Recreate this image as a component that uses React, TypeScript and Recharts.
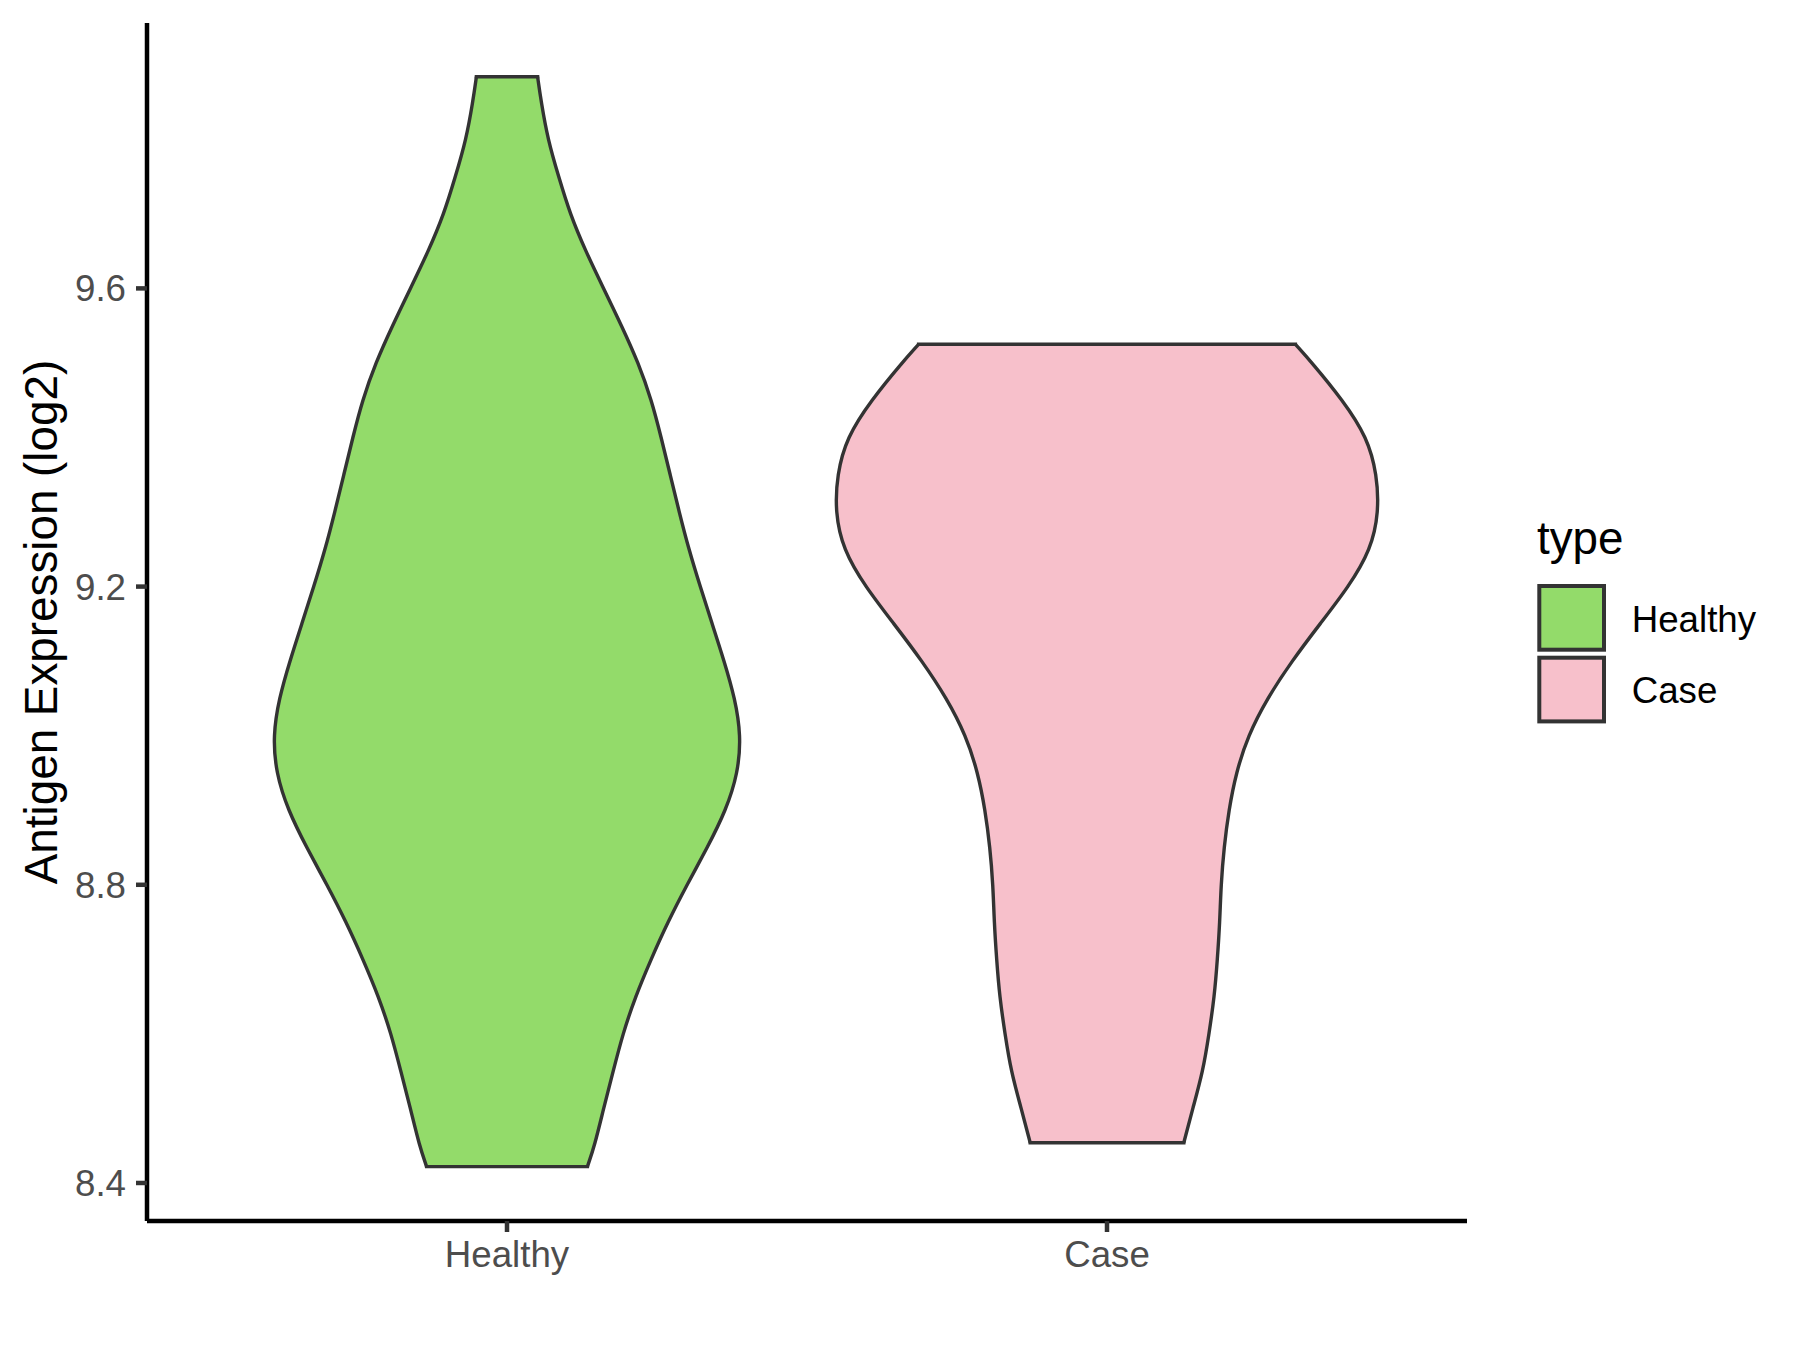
import React from 'react';
import { ComposedChart, Area, XAxis, YAxis, ReferenceLine, Legend, Label } from 'recharts';

const categories = ['Healthy', 'Case'];
const yTicks = [8.4, 8.8, 9.2, 9.6];
const fills = ['#93DB6A', '#F7C0CB'];

// Healthy violin outline: expression values (top → bottom) and half-widths (in category units)
const healthyY = [9.884, 9.85, 9.8, 9.75, 9.7, 9.65, 9.6, 9.55, 9.5, 9.45, 9.4, 9.35, 9.3, 9.25, 9.2, 9.15, 9.1, 9.05, 9.0, 8.95, 8.9, 8.85, 8.8, 8.75, 8.7, 8.65, 8.6, 8.55, 8.5, 8.45, 8.422];
const healthyHalfWidth = [0.051, 0.057, 0.068, 0.086, 0.105, 0.131, 0.161, 0.191, 0.219, 0.241, 0.257, 0.272, 0.287, 0.303, 0.322, 0.342, 0.362, 0.380, 0.390, 0.385, 0.365, 0.334, 0.300, 0.268, 0.240, 0.214, 0.193, 0.177, 0.161, 0.146, 0.134];

// Case violin outline
const caseY = [9.525, 9.5, 9.45, 9.4, 9.35, 9.3, 9.25, 9.2, 9.15, 9.1, 9.05, 9.0, 8.95, 8.9, 8.85, 8.8, 8.75, 8.7, 8.65, 8.6, 8.55, 8.5, 8.454];
const caseHalfWidth = [0.314, 0.342, 0.393, 0.434, 0.450, 0.453, 0.440, 0.403, 0.355, 0.308, 0.267, 0.235, 0.215, 0.203, 0.195, 0.190, 0.188, 0.184, 0.179, 0.170, 0.160, 0.143, 0.128];

const healthyData = healthyY.map((y, i) => ({ y, w: healthyHalfWidth[i] }));
const caseData = caseY.map((y, i) => ({ y, w: caseHalfWidth[i] }));

const violins = [
  { name: categories[0], center: 0, data: healthyData, fill: fills[0] },
  { name: categories[1], center: 1, data: caseData, fill: fills[1] },
];

const FONT = '"Liberation Sans", Arial, sans-serif';
const STROKE = '#333333';
const SW = 3.4;

const LegendContent = () => (
  <svg width={300} height={260} style={{ display: 'block' }}>
    <text x={37} y={74} fontSize={45.8} fontFamily={FONT} fill="#000000">type</text>
    {violins.map((v, i) => (
      <g key={v.name}>
        <rect x={39.3} y={106 + i * 71.7} width={64.7} height={63.7} fill={v.fill} stroke={STROKE} strokeWidth={4} />
        <text x={131.7} y={151.7 + i * 71} fontSize={36.7} fontFamily={FONT} fill="#000000">{v.name}</text>
      </g>
    ))}
  </svg>
);

export default function App() {
  return (
    <div style={{ position: 'absolute', left: 0, top: 0, width: 1800, height: 1350, background: '#FFFFFF' }}>
      <ComposedChart
        width={1800}
        height={1350}
        layout="vertical"
        margin={{ top: 23, right: 333, bottom: 0, left: 0 }}
      >
        <XAxis
          type="number"
          domain={[-0.6, 1.6]}
          ticks={[0, 1]}
          allowDataOverflow
          tickFormatter={(v: number) => categories[v]}
          height={129}
          axisLine={{ stroke: '#000000', strokeWidth: 4.5 }}
          tickLine={{ stroke: STROKE, strokeWidth: 4.5 }}
          tickSize={11}
          tickMargin={9}
          tick={{ fill: '#4D4D4D', fontSize: 36.7, fontFamily: FONT }}
          interval={0}
        />
        <YAxis
          type="number"
          dataKey="y"
          domain={[8.349, 9.956]}
          ticks={yTicks}
          reversed
          allowDataOverflow
          tickFormatter={(v: number) => v.toFixed(1)}
          width={147}
          axisLine={{ stroke: '#000000', strokeWidth: 4.5 }}
          tickLine={{ stroke: STROKE, strokeWidth: 4.5 }}
          tickSize={11}
          tickMargin={10}
          tick={{ fill: '#4D4D4D', fontSize: 36.7, fontFamily: FONT }}
          interval={0}
        >
          <Label
            content={() => (
              <text
                x={57}
                y={622}
                transform="rotate(-90 57 622)"
                textAnchor="middle"
                fontSize={45.8}
                fontFamily={FONT}
                fill="#000000"
              >
                Antigen Expression (log2)
              </text>
            )}
          />
        </YAxis>
        {violins.map((v) => (
          <Area
            key={v.name}
            name={v.name}
            data={v.data}
            dataKey={(d: { y: number; w: number }) => [v.center - d.w, v.center + d.w]}
            type="basis"
            fill={v.fill}
            fillOpacity={1}
            stroke={STROKE}
            strokeWidth={SW}
            dot={false}
            activeDot={false}
            isAnimationActive={false}
          />
        ))}
        {violins.map((v) => {
          const top = v.data[0];
          const bot = v.data[v.data.length - 1];
          return (
            <React.Fragment key={v.name + '-ends'}>
              <ReferenceLine
                segment={[{ x: v.center - top.w, y: top.y }, { x: v.center + top.w, y: top.y }]}
                stroke={STROKE}
                strokeWidth={SW}
                strokeLinecap="square"
              />
              <ReferenceLine
                segment={[{ x: v.center - bot.w, y: bot.y }, { x: v.center + bot.w, y: bot.y }]}
                stroke={STROKE}
                strokeWidth={SW}
                strokeLinecap="square"
              />
            </React.Fragment>
          );
        })}
        <Legend
          layout="vertical"
          align="center"
          verticalAlign="middle"
          content={() => <LegendContent />}
          wrapperStyle={{ position: 'absolute', left: 1500, top: 480, width: 300, height: 260 }}
        />
      </ComposedChart>
    </div>
  );
}
